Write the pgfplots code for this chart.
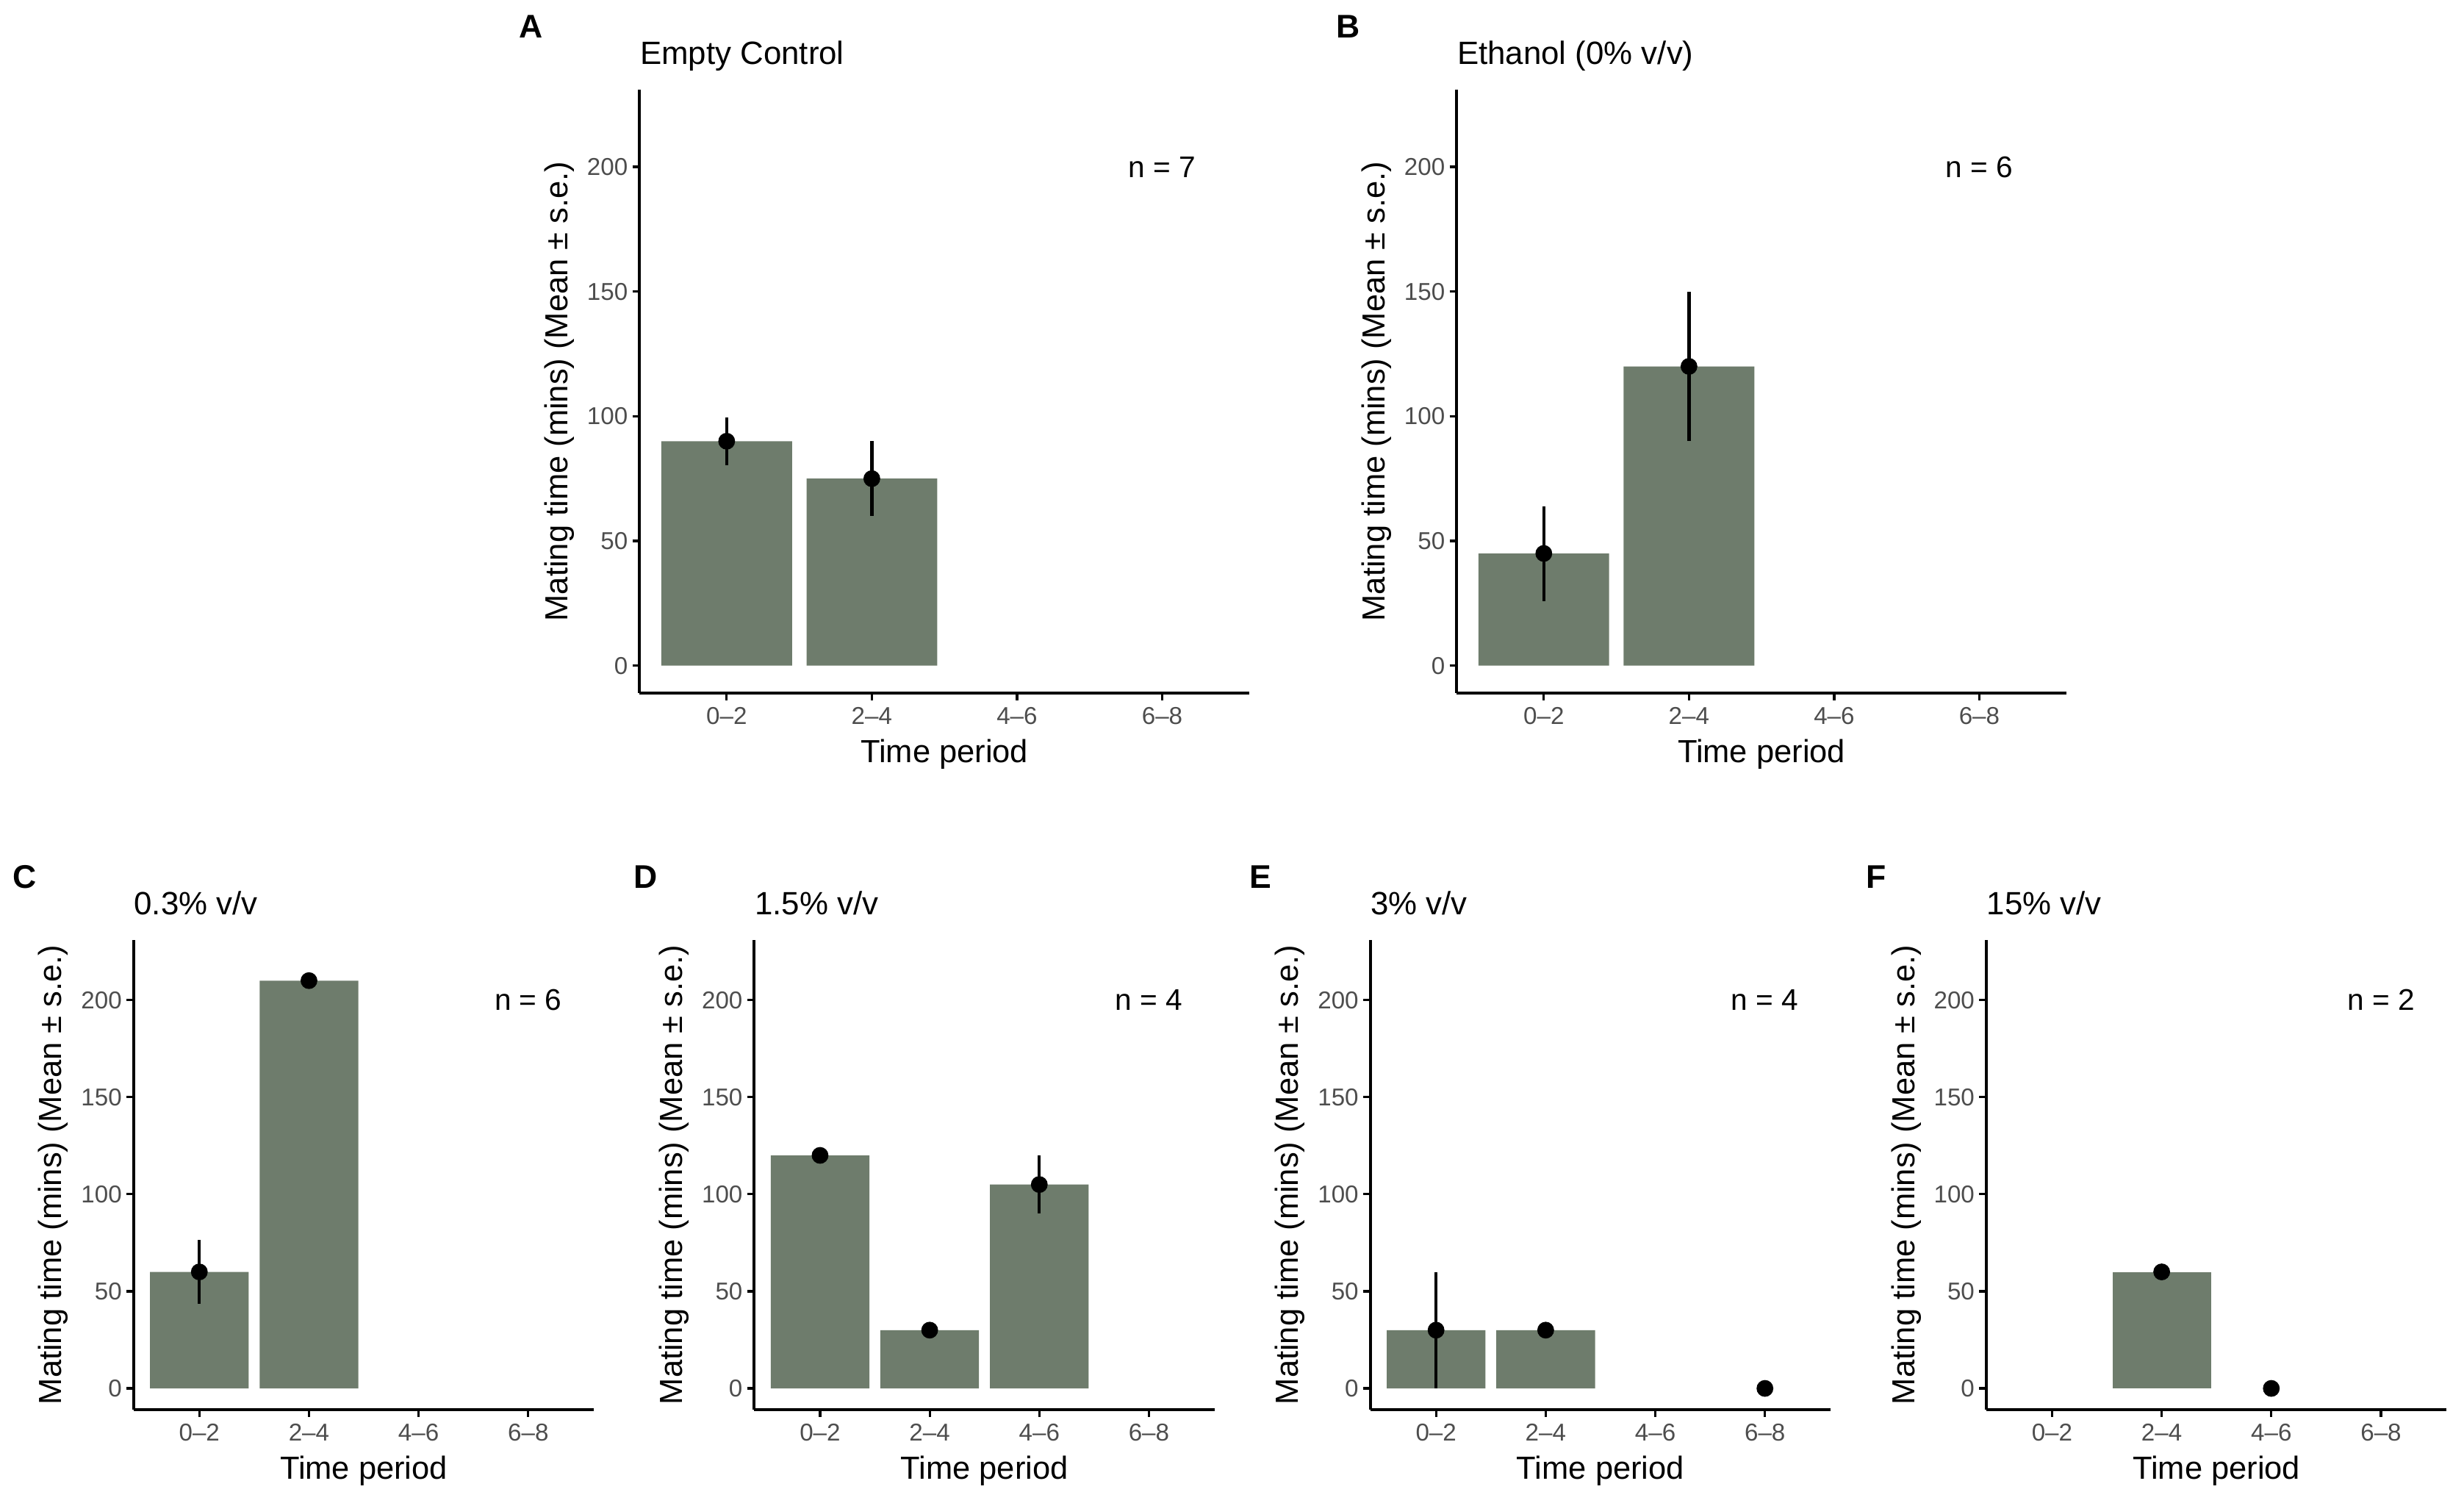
\documentclass[border=0pt]{standalone}
\usepackage{pgfplots}
\pgfplotsset{compat=1.18}
\usepackage{pgfplotstable}
\usepackage{fontspec}
\setmainfont{Liberation Sans}
\definecolor{barcol}{RGB}{110,124,108}
\definecolor{tickgray}{RGB}{77,77,77}

\pgfplotstableread{
x y err
1 90 9.5
2 75 15
}\tA
\pgfplotstableread{
x y err
1 45 19
2 120 30
}\tB
\pgfplotstableread{
x y err
1 60 16.5
2 210 0
}\tC
\pgfplotstableread{
x y err
1 120 0
2 30 0
3 105 15
}\tD
\pgfplotstableread{
x y err
1 30 30
2 30 0
4 0 0
}\tE
\pgfplotstableread{
x y err
2 60 0
3 0 0
}\tF

\pgfplotsset{
  panel/.style={
    scale only axis,
    clip=false,
    xmin=0.4, xmax=4.6, ymin=-11, ymax=231,
    xtick={1,2,3,4}, xticklabels={0--2,2--4,4--6,6--8},
    ytick={0,50,100,150,200},
    axis x line*=bottom, axis y line*=left,
    axis line style={line width=1.1pt, black},
    tick align=outside,
    major tick length=2.7pt,
    tick style={line width=0.9pt, black},
    /pgf/number format/assume math mode=true,
    ticklabel style={font=\fontsize{9.3}{11}\selectfont, text=tickgray},
    yticklabel style={inner sep=1.6pt},
    xticklabel style={inner sep=2.5pt},
    label style={font=\fontsize{12.2}{14}\selectfont},
    xlabel={Time period},
    ylabel={Mating time (mins) (Mean ± s.e.)},
    xlabel style={at={(axis description cs:0.5,0)}, anchor=center, yshift=-23.4pt},
    ylabel style={at={(axis description cs:0,0.5)}, anchor=center, yshift=30.6pt},
  },
  topp/.style={panel, width=232.8pt, height=230.4pt},
  botp/.style={panel, width=175.8pt, height=179.4pt},
}

\newcommand{\panel}[5]{%
  \addplot[ybar, bar width=0.9, bar shift=0pt, fill=barcol, draw=none,
           restrict y to domain=0.5:1000] table[x=x,y=y]{#1};
  \addplot[only marks, mark=*, mark size=3pt, black,
           error bars/.cd, y dir=both, y explicit, error mark=none,
           error bar style={line width=1.2pt, black}]
           table[x=x,y=y,y error=err]{#1};
  \node[font=\fontsize{11.4}{13}\selectfont, anchor=center] at (axis cs:4,200) {n = #2};
  \node[font=\fontsize{12.3}{14}\selectfont, anchor=base west, inner sep=0pt]
     at ([yshift=9.6pt]rel axis cs:0,1) {#3};
  \node[font=\bfseries\fontsize{12.5}{14}\selectfont, anchor=base west, inner sep=0pt]
     at ([xshift=-46.2pt,yshift=19.8pt]rel axis cs:0,1) {#4};
}

\begin{document}
\begin{tikzpicture}
\path (0,0) rectangle (940.8pt,-573.6pt);

\begin{axis}[topp, at={(244.2pt,-264.6pt)}, anchor=south west]
\panel{\tA}{7}{Empty Control}{A}{}
\end{axis}

\begin{axis}[topp, at={(556.2pt,-264.6pt)}, anchor=south west]
\panel{\tB}{6}{Ethanol (0\% v/v)}{B}{}
\end{axis}

\begin{axis}[botp, at={(51pt,-538.2pt)}, anchor=south west]
\panel{\tC}{6}{0.3\% v/v}{C}{}
\end{axis}

\begin{axis}[botp, at={(288pt,-538.2pt)}, anchor=south west]
\panel{\tD}{4}{1.5\% v/v}{D}{}
\end{axis}

\begin{axis}[botp, at={(523.2pt,-538.2pt)}, anchor=south west]
\panel{\tE}{4}{3\% v/v}{E}{}
\end{axis}

\begin{axis}[botp, at={(758.4pt,-538.2pt)}, anchor=south west]
\panel{\tF}{2}{15\% v/v}{F}{}
\end{axis}
\end{tikzpicture}
\end{document}
